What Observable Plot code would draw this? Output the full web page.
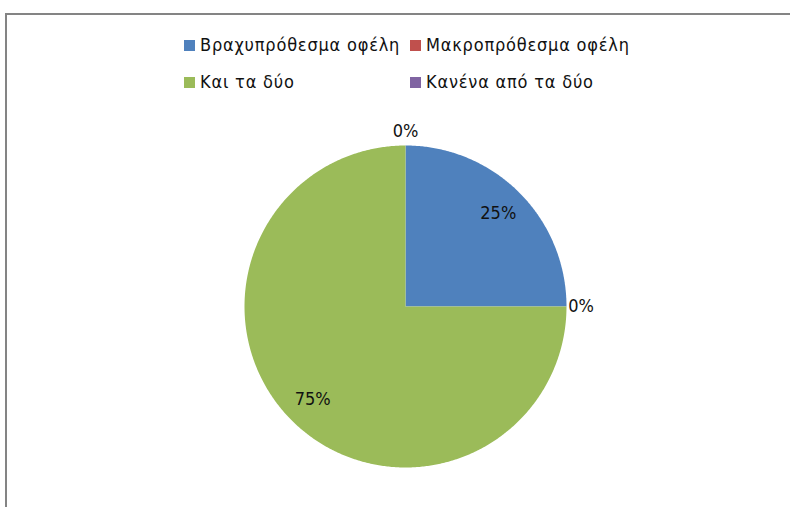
<!DOCTYPE html>
<html>
<head>
<meta charset="utf-8">
<script src="https://cdn.jsdelivr.net/npm/d3@7"></script>
<script src="https://cdn.jsdelivr.net/npm/@observablehq/plot@0.6"></script>
<style>
  html, body { margin: 0; padding: 0; background: #fff; }
  body { width: 790px; height: 507px; position: relative; overflow: hidden;
         font-family: "Liberation Sans Narrow", "DejaVu Sans Condensed", "Open Sans", sans-serif; }
  #frame { position: absolute; left: 5px; top: 13px; width: 785px; height: 494px;
           box-sizing: border-box; border-top: 2px solid #848484; border-left: 2px solid #848484; }
  #legend { position: relative; height: 85px; }
  .item { position: absolute; display: flex; align-items: center; font-size: 18px; color: #111; white-space: nowrap; line-height: 1; }
  .item .tx { letter-spacing: 0.8px; }
  .sw { width: 11px; height: 11px; margin-right: 5px; flex: none; }
  svg { display: block; }
</style>
</head>
<body>
<div id="frame">
  <div id="legend"></div>
  <div id="chart"></div>
</div>
<script>
const categories = ["Βραχυπρόθεσμα οφέλη", "Μακροπρόθεσμα οφέλη", "Και τα δύο", "Κανένα από τα δύο"];
const values = [25, 0, 75, 0];
const percentLabels = ["25%", "0%", "75%", "0%"];
const colors = ["#4F81BD", "#C0504D", "#9BBB59", "#8064A2"];

const fontStack = '"Liberation Sans Narrow", "DejaVu Sans Condensed", "Open Sans", sans-serif';

// Pie geometry (angles from 12 o'clock, clockwise), in unit-circle data space
const arcs = d3.pie().sort(null).value(d => d)(values);
const polygons = [];
const labelData = [];
arcs.forEach((a, i) => {
  const cat = categories[i];
  polygons.push({cat, x: 0, y: 0});
  const span = a.endAngle - a.startAngle;
  const n = Math.max(1, Math.ceil(span / (Math.PI / 360)));
  for (let k = 0; k <= n; k++) {
    const t = a.startAngle + span * k / n;
    polygons.push({cat, x: Math.sin(t), y: Math.cos(t)});
  }
  const mid = (a.startAngle + a.endAngle) / 2;
  const r = values[i] > 0 ? 0.815 : 1.09;
  labelData.push({label: percentLabels[i], x: r * Math.sin(mid), y: r * Math.cos(mid)});
});

const cx = 398, cy = 206, R = 161;
const plot = Plot.plot({
  width: 783,
  height: 407,
  margin: 0,
  x: {domain: [-1, 1], range: [cx - R, cx + R], axis: null},
  y: {domain: [-1, 1], range: [cy + R, cy - R], axis: null},
  color: {domain: categories, range: colors},
  style: {fontFamily: fontStack, background: "transparent", overflow: "visible"},
  marks: [
    Plot.line(polygons, {x: "x", y: "y", z: "cat", fill: "cat", stroke: "none", curve: "linear"}),
    Plot.text(labelData, {x: "x", y: "y", text: "label", fontSize: 18, fill: "#111"})
  ]
});
document.getElementById("chart").appendChild(plot);

// Legend built from the plot's color scale
const cs = plot.scale("color");
const legend = document.getElementById("legend");
const pos = [[177, 24], [403, 24], [177, 61], [403, 61]];
cs.domain.forEach((name, i) => {
  const item = document.createElement("div");
  item.className = "item";
  item.style.left = pos[i][0] + "px";
  item.style.top = (pos[i][1] - 3) + "px";
  const sw = document.createElement("span");
  sw.className = "sw";
  sw.style.background = cs.range[i];
  const tx = document.createElement("span");
  tx.className = "tx";
  tx.textContent = name;
  item.appendChild(sw);
  item.appendChild(tx);
  legend.appendChild(item);
});
</script>
</body>
</html>
